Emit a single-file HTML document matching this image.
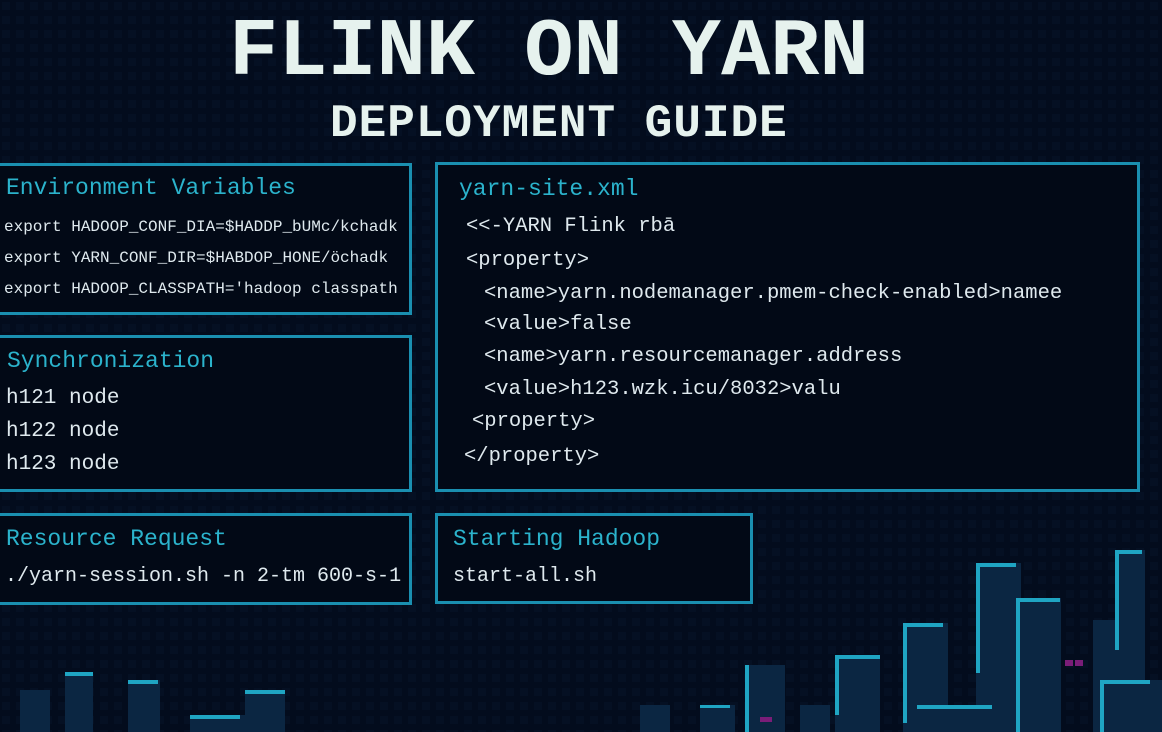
<!DOCTYPE html>
<html><head><meta charset="utf-8"><style>
body{margin:0;width:1162px;height:732px;overflow:hidden;background:#030c1d;font-family:"Liberation Mono",monospace;position:relative}
.t{position:absolute;white-space:pre;line-height:1}
.box{position:absolute;border:3px solid #1a8fb0;background:#020916;box-sizing:border-box}
.h{color:#2bb3cc}
.w{color:#dfe9ee}
.b{position:absolute;background:#0b2440}
.e{position:absolute;background:#20a9c6}
</style></head><body>
<svg style="position:absolute;left:0;top:0" width="1162" height="732">
<defs><pattern id="g" width="14" height="14" patternUnits="userSpaceOnUse"><rect x="2" y="2" width="8" height="8" fill="#0a1a33" opacity="0.55"/></pattern></defs>
<rect x="0" y="0" width="1162" height="732" fill="url(#g)" opacity="0.5"/>
<g fill="#0b2642">
<rect x="20" y="690" width="30" height="42"/><rect x="65" y="672" width="28" height="60"/><rect x="128" y="680" width="32" height="52"/><rect x="245" y="690" width="40" height="42"/><rect x="190" y="715" width="60" height="17"/>
<rect x="640" y="705" width="30" height="27"/><rect x="700" y="705" width="35" height="27"/><rect x="745" y="665" width="40" height="67"/><rect x="800" y="705" width="30" height="27"/>
<rect x="835" y="655" width="45" height="77"/><rect x="903" y="623" width="45" height="109"/><rect x="917" y="705" width="80" height="27"/><rect x="976" y="563" width="45" height="169"/><rect x="1016" y="598" width="45" height="134"/><rect x="1093" y="620" width="30" height="112"/><rect x="1115" y="550" width="30" height="182"/><rect x="1100" y="680" width="62" height="52"/>
</g>
<g fill="#1fa5c3">
<rect x="65" y="672" width="28" height="4"/><rect x="128" y="680" width="30" height="4"/><rect x="245" y="690" width="40" height="4"/><rect x="190" y="715" width="50" height="4"/>
<rect x="835" y="655" width="45" height="4"/><rect x="835" y="655" width="4" height="60"/><rect x="903" y="623" width="40" height="4"/><rect x="903" y="623" width="4" height="100"/>
<rect x="976" y="563" width="40" height="4"/><rect x="976" y="563" width="4" height="110"/><rect x="1016" y="598" width="44" height="4"/><rect x="1016" y="598" width="4" height="134"/>
<rect x="1115" y="550" width="27" height="4"/><rect x="1115" y="550" width="4" height="100"/><rect x="1100" y="680" width="50" height="4"/><rect x="1100" y="680" width="4" height="52"/><rect x="917" y="705" width="75" height="4"/>
<rect x="745" y="665" width="4" height="67"/><rect x="700" y="705" width="30" height="3"/>
</g>
<g fill="#7a1d78"><rect x="1065" y="660" width="8" height="6"/><rect x="1075" y="660" width="8" height="6"/><rect x="760" y="717" width="12" height="5"/></g>
</svg>
<div class="t" style="left:229px;top:12px;font-size:82px;font-weight:bold;color:#e6f2ee;letter-spacing:0px">FLINK ON YARN</div>
<div class="t" style="left:330px;top:101px;font-size:46px;font-weight:bold;color:#e6f2ee;letter-spacing:1px">DEPLOYMENT GUIDE</div>

<div class="box" style="left:-3px;top:163px;width:415px;height:152px"></div>
<div class="t h" style="left:6px;top:177px;font-size:23px">Environment Variables</div>
<div class="t w" style="left:4px;top:219px;font-size:16px">export HADOOP_CONF_DIA=$HADDP_bUMc/kchadk</div>
<div class="t w" style="left:4px;top:250px;font-size:16px">export YARN_CONF_DIR=$HABDOP_HONE/öchadk</div>
<div class="t w" style="left:4px;top:281px;font-size:16px">export HADOOP_CLASSPATH='hadoop classpath</div>

<div class="box" style="left:-3px;top:335px;width:415px;height:157px"></div>
<div class="t h" style="left:7px;top:350px;font-size:23px">Synchronization</div>
<div class="t w" style="left:6px;top:388px;font-size:21px">h121 node</div>
<div class="t w" style="left:6px;top:421px;font-size:21px">h122 node</div>
<div class="t w" style="left:6px;top:454px;font-size:21px">h123 node</div>

<div class="box" style="left:-3px;top:513px;width:415px;height:92px"></div>
<div class="t h" style="left:6px;top:528px;font-size:23px">Resource Request</div>
<div class="t w" style="left:5px;top:567px;font-size:20px">./yarn-session.sh -n 2-tm 600-s-1</div>

<div class="box" style="left:435px;top:162px;width:705px;height:330px"></div>
<div class="t h" style="left:459px;top:178px;font-size:23px">yarn-site.xml</div>
<div class="t w" style="font-size:20.5px;left:466px;top:217px">&lt;&lt;-YARN Flink rbā</div>
<div class="t w" style="font-size:20.5px;left:466px;top:251px">&lt;property&gt;</div>
<div class="t w" style="font-size:20.5px;left:484px;top:284px">&lt;name&gt;yarn.nodemanager.pmem-check-enabled&gt;namee</div>
<div class="t w" style="font-size:20.5px;left:484px;top:315px">&lt;value&gt;false</div>
<div class="t w" style="font-size:20.5px;left:484px;top:347px">&lt;name&gt;yarn.resourcemanager.address</div>
<div class="t w" style="font-size:20.5px;left:484px;top:380px">&lt;value&gt;h123.wzk.icu/8032&gt;valu</div>
<div class="t w" style="font-size:20.5px;left:472px;top:412px">&lt;property&gt;</div>
<div class="t w" style="font-size:20.5px;left:464px;top:447px">&lt;/property&gt;</div>

<div class="box" style="left:435px;top:513px;width:318px;height:91px"></div>
<div class="t h" style="left:453px;top:528px;font-size:23px">Starting Hadoop</div>
<div class="t w" style="left:453px;top:567px;font-size:20px">start-all.sh</div>
</body></html>
